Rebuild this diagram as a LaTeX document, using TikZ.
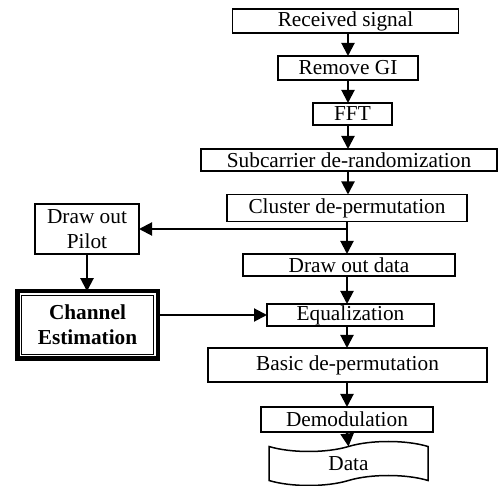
\documentclass[tikz,border=0pt]{standalone}
\usepackage{fontspec}
\setmainfont{Liberation Serif}
\usepackage{tikz}
\usetikzlibrary{arrows.meta,shapes.symbols}
\tikzset{
	every block/.style={
		rectangle,
		draw,
		line width=1.5pt,
		inner sep=0pt,
		outer sep=0pt,
		font=\fontsize{21.3}{25}\selectfont
	},
	block tape/.style={
		every block,
		tape,
		tape bend top=in and out,
		tape bend bottom=in and out,
		tape bend height=10pt
	},
}

\begin{document}
\begin{tikzpicture}[x=1pt,y=-1pt]
\tikzset{BlockStyle/.style = {every block}}
\tikzset{EdgeStyle/.style = {-{Triangle[length=13pt,width=13pt]}, line width=2pt}}
\useasboundingbox (0,0) rectangle (499,486);

\node[BlockStyle, minimum width=226pt, minimum height=24pt] (received) at (345.5,21) {Received signal};
	\node[BlockStyle, minimum width=140pt, minimum height=24pt] (removeGI) at (348,68) {Remove GI};
		\node[BlockStyle, minimum width=79pt, minimum height=22pt] (fft) at (352.5,114) {FFT};
			\node[BlockStyle, minimum width=296pt, minimum height=22pt] (subcarrier) at (349,160) {Subcarrier de-randomization};
				\node[BlockStyle, minimum width=240pt, minimum height=27pt] (cluster) at (347,208) {Cluster de-permutation};
					\node[BlockStyle, minimum width=212pt, minimum height=22pt] (drawData) at (349,265) {Draw out data};
					\node[BlockStyle, minimum width=167pt, minimum height=22pt] (equal) at (350.5,315) {Equalization};
					\node[BlockStyle, minimum width=279pt, minimum height=34pt] (basic) at (347.5,365) {Basic de-permutation};
					\node[BlockStyle, minimum width=172pt, minimum height=25pt] (demod) at (347,419.5) {Demodulation};
					\node[block tape, minimum width=159pt, minimum height=44pt] (data) at (348.5,463.5) {Data};

		\node[BlockStyle, minimum width=104pt, minimum height=50pt, align=center] (pilot) at (87,229) {Draw out\\Pilot};
		\node[BlockStyle, line width=4.5pt, minimum width=140.5pt, minimum height=67.5pt, align=center, font=\fontsize{21.3}{25}\selectfont\bfseries] (chEst) at (87.5,325) {Channel\\Estimation};
		\draw[line width=1pt] ([shift={(4pt,4pt)}]chEst.south west) rectangle ([shift={(-4pt,-4pt)}]chEst.north east);

\coordinate (split) at (cluster.south |- pilot.east);

\draw[EdgeStyle] (received.south -| removeGI.north) -- (removeGI.north);
\draw[EdgeStyle] (removeGI.south) -- (removeGI.south |- fft.north);
\draw[EdgeStyle] (removeGI.south |- fft.south) -- (removeGI.south |- subcarrier.north);
\draw[EdgeStyle] (removeGI.south |- subcarrier.south) -- (removeGI.south |- cluster.north);
\draw[EdgeStyle] (cluster.south) -- (cluster.south |- drawData.north);
\draw[EdgeStyle] (split) -- (pilot.east);
\draw[EdgeStyle] (cluster.south |- drawData.south) -- (cluster.south |- equal.north);
\draw[EdgeStyle] (cluster.south |- equal.south) -- (cluster.south |- basic.north);
\draw[EdgeStyle] (cluster.south |- basic.south) -- (cluster.south |- demod.north);
\draw[EdgeStyle] (cluster.south |- demod.south) -- (data.north);
\draw[EdgeStyle] (pilot.south) -- (pilot.south |- chEst.north);
\draw[EdgeStyle] (chEst.east |- equal.west) -- (equal.west);
\end{tikzpicture}
\end{document}
